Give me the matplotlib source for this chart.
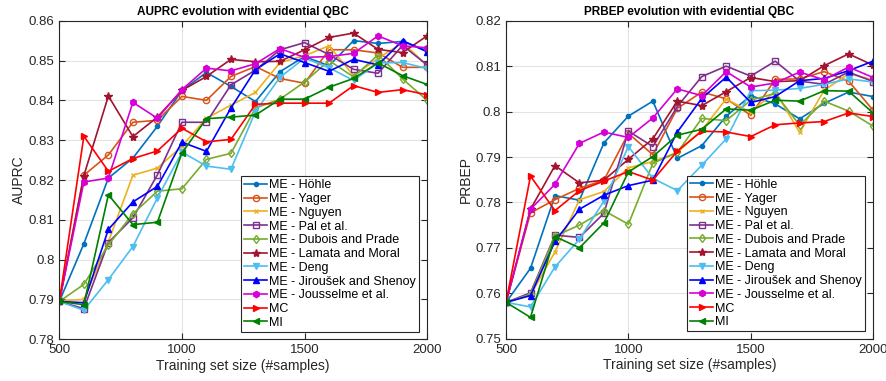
import numpy as np
import matplotlib.pyplot as plt

plt.rcParams['font.family'] = ['Liberation Sans', 'DejaVu Sans']

# ---------------------------------------------------------------
# DATA
# ---------------------------------------------------------------
sizes = [500, 600, 700, 800, 900, 1000, 1100, 1200, 1300, 1400,
         1500, 1600, 1700, 1800, 1900, 2000]

labels = ['ME - Höhle', 'ME - Yager', 'ME - Nguyen', 'ME - Pal et al.',
          'ME - Dubois and Prade', 'ME - Lamata and Moral', 'ME - Deng',
          'ME - Jiroušek and Shenoy', 'ME - Jousselme et al.', 'MC', 'MI']

# AUPRC, left panel
auprc_hohle = [0.7895, 0.804, 0.8205, 0.8255, 0.8335, 0.8425, 0.847, 0.8435,
               0.8397, 0.8472, 0.851, 0.8487, 0.855, 0.8543, 0.8548, 0.8525]
auprc_yager = [0.7895, 0.8212, 0.8263, 0.8345, 0.835, 0.841, 0.840, 0.846,
               0.8485, 0.8455, 0.8443, 0.8527, 0.8527, 0.8519, 0.8483, 0.8483]
auprc_nguyen = [0.7897, 0.790, 0.8045, 0.8212, 0.823, 0.8285, 0.8355, 0.8388,
                0.842, 0.8495, 0.8512, 0.8537, 0.8462, 0.8505, 0.8545, 0.8488]
auprc_pal = [0.7895, 0.7877, 0.8043, 0.8105, 0.8213, 0.8345, 0.8345, 0.8439,
             0.8476, 0.8527, 0.8545, 0.8515, 0.8478, 0.8468, 0.8538, 0.8489]
auprc_dubois = [0.7895, 0.7938, 0.8037, 0.8115, 0.8172, 0.8178, 0.8252, 0.8267,
                0.8381, 0.8403, 0.8446, 0.850, 0.8459, 0.8514, 0.8454, 0.840]
auprc_lamata = [0.7895, 0.8211, 0.8411, 0.8309, 0.8358, 0.8425, 0.846, 0.8503,
                0.8497, 0.8498, 0.8527, 0.8558, 0.8569, 0.8528, 0.852, 0.8562]
auprc_deng = [0.7895, 0.7873, 0.795, 0.8033, 0.8155, 0.827, 0.8235, 0.8227,
              0.8372, 0.8458, 0.8506, 0.8482, 0.845, 0.8494, 0.8495, 0.848]
auprc_jirousek = [0.7895, 0.7892, 0.8076, 0.8145, 0.8184, 0.8295, 0.8272, 0.8381,
                  0.8477, 0.8517, 0.8495, 0.8473, 0.8503, 0.8489, 0.855, 0.8522]
auprc_jousselme = [0.7895, 0.8195, 0.8205, 0.8395, 0.8355, 0.8427, 0.8481, 0.8474,
                   0.8492, 0.853, 0.8508, 0.851, 0.8518, 0.8562, 0.8537, 0.8532]
auprc_mc = [0.7895, 0.831, 0.8222, 0.8254, 0.8273, 0.833, 0.8296, 0.8302,
            0.839, 0.8393, 0.8393, 0.8393, 0.8437, 0.842, 0.8427, 0.8414]
auprc_mi = [0.7895, 0.7887, 0.8163, 0.8088, 0.8094, 0.8268, 0.8354, 0.8358,
            0.8363, 0.8403, 0.8403, 0.8433, 0.8455, 0.8494, 0.8462, 0.844]

# PRBEP, right panel
prbep_hohle = [0.758, 0.7655, 0.7815, 0.7805, 0.7931, 0.799, 0.8023, 0.7897,
               0.7925, 0.799, 0.8035, 0.8017, 0.7984, 0.8018, 0.8043, 0.8033]
prbep_yager = [0.758, 0.7777, 0.7806, 0.7831, 0.7849, 0.7952, 0.7905, 0.8007,
               0.8043, 0.8028, 0.7992, 0.8071, 0.8072, 0.8088, 0.8067, 0.8003]
prbep_nguyen = [0.758, 0.7596, 0.7691, 0.7806, 0.7824, 0.7876, 0.789, 0.791,
                0.7959, 0.8028, 0.7998, 0.8045, 0.7954, 0.8047, 0.8083, 0.807]
prbep_pal = [0.758, 0.7601, 0.7728, 0.7723, 0.7776, 0.7957, 0.7923, 0.8011,
             0.8077, 0.810, 0.8078, 0.8111, 0.8067, 0.806, 0.8087, 0.8066]
prbep_dubois = [0.758, 0.7598, 0.7726, 0.775, 0.7782, 0.7752, 0.7886, 0.791,
                0.7985, 0.798, 0.8025, 0.804, 0.797, 0.8023, 0.8001, 0.7968]
prbep_lamata = [0.758, 0.7785, 0.7881, 0.7843, 0.7849, 0.7895, 0.794, 0.8023,
                0.8013, 0.8044, 0.8075, 0.8066, 0.8068, 0.8101, 0.8127, 0.8102]
prbep_deng = [0.758, 0.757, 0.7658, 0.7719, 0.7803, 0.7923, 0.7853, 0.7826,
              0.7882, 0.794, 0.8046, 0.8047, 0.8051, 0.806, 0.8072, 0.8065]
prbep_jirousek = [0.758, 0.7595, 0.7714, 0.7785, 0.7816, 0.7837, 0.7849, 0.7955,
                  0.8029, 0.8076, 0.802, 0.8033, 0.8068, 0.8073, 0.809, 0.8111]
prbep_jousselme = [0.758, 0.7785, 0.784, 0.793, 0.7955, 0.7943, 0.7986, 0.805,
                   0.8035, 0.8088, 0.8054, 0.8063, 0.8087, 0.807, 0.8098, 0.8075]
prbep_mc = [0.758, 0.7858, 0.7782, 0.7826, 0.7847, 0.7868, 0.7849, 0.7913,
            0.7957, 0.7955, 0.7945, 0.7971, 0.7975, 0.7978, 0.7997, 0.7989]
prbep_mi = [0.758, 0.7547, 0.7725, 0.770, 0.7755, 0.7867, 0.7901, 0.7948,
            0.7961, 0.8006, 0.8003, 0.8025, 0.8023, 0.8046, 0.8045, 0.7997]

auprc = [auprc_hohle, auprc_yager, auprc_nguyen, auprc_pal, auprc_dubois,
         auprc_lamata, auprc_deng, auprc_jirousek, auprc_jousselme, auprc_mc, auprc_mi]
prbep = [prbep_hohle, prbep_yager, prbep_nguyen, prbep_pal, prbep_dubois,
         prbep_lamata, prbep_deng, prbep_jirousek, prbep_jousselme, prbep_mc, prbep_mi]

# ---------------------------------------------------------------
# STYLE  (MATLAB-like colour order + markers)
# ---------------------------------------------------------------
colors = ['#0072BD', '#D95319', '#EDB120', '#7E2F8E', '#77AC30', '#A2142F',
          '#4DBEEE', '#0000FF', '#D600D6', '#FF0000', '#008000']
markers = ['.', 'o', 'x', 's', 'd', '*', 'v', '^', 'h', '>', '<']
hollow = [False, True, False, True, True, False, False, False, False, False, False]
msizes = [6, 4.5, 3.5, 4, 4.5, 6, 5, 5, 4.5, 5, 5]


def draw_panel(ax, series, title, ylabel, ylim, yticks, yticklabels):
    for i, vals in enumerate(series):
        ax.plot(sizes, vals, color=colors[i], marker=markers[i],
                markersize=msizes[i], linewidth=1.2,
                markerfacecolor='none' if hollow[i] else colors[i],
                markeredgewidth=1.0, label=labels[i])
    ax.set_xlim(500, 2000)
    ax.set_ylim(*ylim)
    ax.set_xticks([500, 1000, 1500, 2000])
    ax.set_yticks(yticks)
    ax.set_yticklabels(yticklabels)
    ax.grid(True, color='#e3e3e3', linewidth=0.8)
    ax.set_axisbelow(True)
    ax.tick_params(direction='in', top=True, right=True, labelsize=9.5,
                   length=4, colors='#262626')
    for sp in ax.spines.values():
        sp.set_color('#262626')
        sp.set_linewidth(0.8)
    ax.set_title(title, fontsize=8.5, fontweight='bold', pad=4)
    ax.set_xlabel('Training set size (#samples)', fontsize=10, color='#262626', labelpad=2)
    ax.set_ylabel(ylabel, fontsize=10, color='#262626', labelpad=2)
    leg = ax.legend(loc='lower right', bbox_to_anchor=(0.979, 0.023),
                    borderaxespad=0, fontsize=9, labelspacing=0.14,
                    handlelength=1.8, handletextpad=0.2, borderpad=0.25,
                    fancybox=False, framealpha=1, edgecolor='#262626')
    leg.get_frame().set_linewidth(0.8)


fig = plt.figure(figsize=(8.87, 3.81), dpi=100)
ax1 = fig.add_axes([0.0669, 0.1094, 0.4146, 0.8362])
ax2 = fig.add_axes([0.5705, 0.1110, 0.4138, 0.8346])

draw_panel(ax1, auprc, 'AUPRC evolution with evidential QBC', 'AUPRC',
           (0.78, 0.86), [0.78, 0.79, 0.80, 0.81, 0.82, 0.83, 0.84, 0.85, 0.86],
           ['0.78', '0.79', '0.8', '0.81', '0.82', '0.83', '0.84', '0.85', '0.86'])
draw_panel(ax2, prbep, 'PRBEP evolution with evidential QBC', 'PRBEP',
           (0.75, 0.82), [0.75, 0.76, 0.77, 0.78, 0.79, 0.80, 0.81, 0.82],
           ['0.75', '0.76', '0.77', '0.78', '0.79', '0.8', '0.81', '0.82'])

fig.savefig('out.png', dpi=100)
